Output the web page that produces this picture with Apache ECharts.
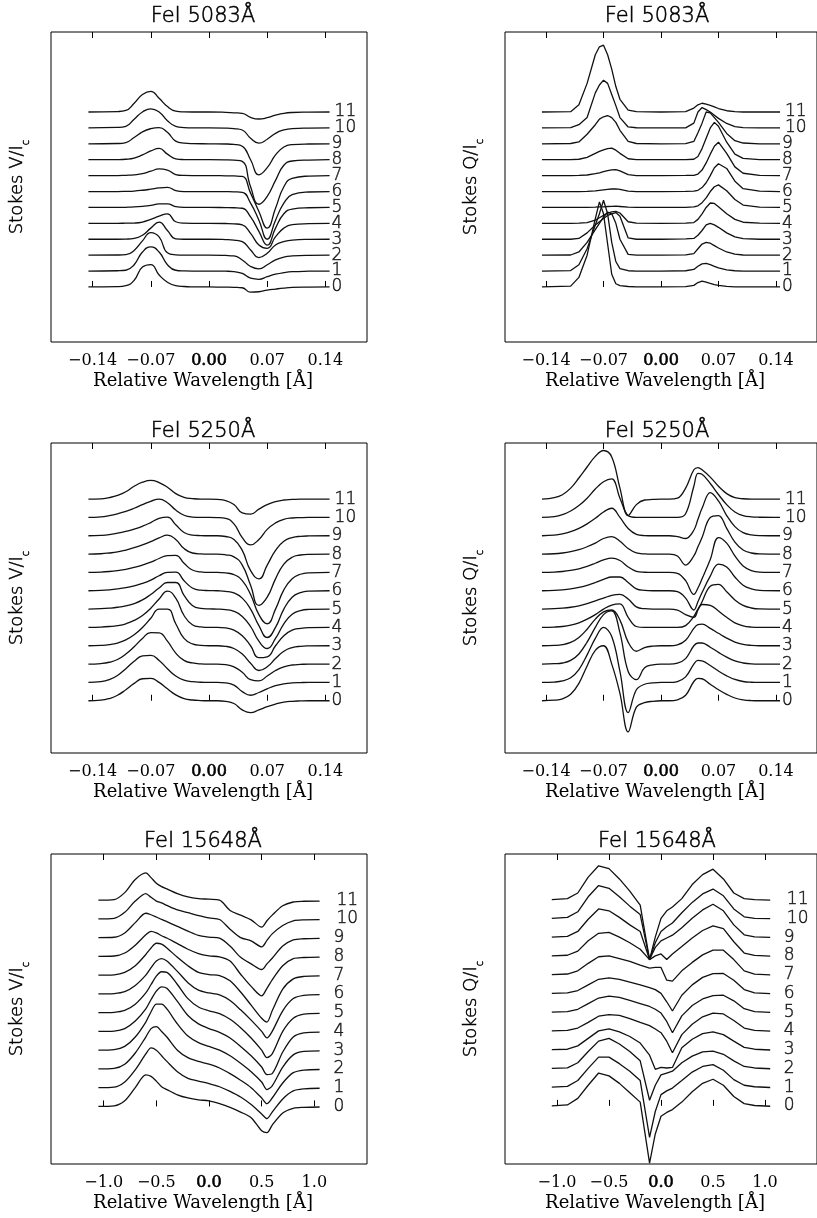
<!DOCTYPE html>
<html>
<head>
<meta charset="utf-8">
<script src="https://cdn.jsdelivr.net/npm/echarts@6/dist/echarts.min.js"></script>
<style>
  html, body { margin: 0; background: #fff; }
  #chart { width: 817px; height: 1218px; }
</style>
</head>
<body>
<div id="chart"></div>
<script>
// profile index drawn at the right of each stack
const levels = [0, 1, 2, 3, 4, 5, 6, 7, 8, 9, 10, 11];
const ticksNarrow = [-0.14, -0.07, 0, 0.07, 0.14];
const ticksWide = [-1.0, -0.5, 0, 0.5, 1.0];

// FeI 5083 Stokes V (offsets of each profile from its baseline, one unit = stack spacing)
const xV5083 = [-0.145, -0.11, -0.10, -0.09, -0.08, -0.07, -0.06, -0.05, -0.04, -0.03, -0.02, 0, 0.02, 0.03, 0.04, 0.05, 0.06, 0.07, 0.08, 0.09, 0.10, 0.12, 0.145];
const v5083 = [
  [0, 0.02, 0.08, 0.42, 1.25, 1.4, 0.75, 0.3, 0.08, 0.03, 0.01, 0, -0.01, -0.02, -0.05, -0.33, -0.3, -0.2, -0.13, -0.07, -0.03, -0.01, 0],
  [0, 0.02, 0.05, 0.4, 1.2, 1.52, 1.2, 0.4, 0.05, 0.01, 0, 0, -0.01, -0.03, -0.15, -0.45, -0.52, -0.35, -0.2, -0.1, -0.04, -0.01, 0],
  [0, 0.01, 0.03, 0.3, 0.9, 1.42, 1.15, 0.15, 0.02, 0, 0, 0, -0.02, -0.05, -0.3, -0.71, -0.86, -0.6, -0.3, -0.12, -0.05, -0.01, 0],
  [0, 0, 0.01, 0.05, 0.25, 0.7, 1.08, 0.55, 0.03, 0, 0, 0, -0.02, -0.05, -0.15, -0.67, -1.15, -0.88, -0.36, -0.15, -0.05, -0.01, 0],
  [0, 0, 0.01, 0.02, 0.08, 0.25, 0.45, 0.6, 0.1, 0.01, 0, 0, -0.01, -0.03, -0.1, -0.63, -1.36, -1.57, -0.84, -0.3, -0.08, -0.02, 0],
  [0, 0, 0.01, 0.03, 0.07, 0.13, 0.22, 0.22, 0.05, 0, 0, 0, -0.01, -0.02, -0.05, -0.6, -1.5, -2.37, -1.3, -0.4, -0.1, -0.02, 0],
  [0, 0, 0.01, 0.03, 0.08, 0.15, 0.23, 0.26, 0.06, 0, 0, 0, -0.01, -0.02, -0.05, -0.73, -1.8, -3.0, -1.8, -0.73, -0.2, -0.03, 0],
  [0, 0, 0.02, 0.05, 0.12, 0.28, 0.42, 0.35, 0.07, 0.01, 0, 0, -0.01, -0.02, -0.05, -1.1, -2.25, -3.3, -2.05, -0.7, -0.17, -0.03, 0],
  [0, 0.01, 0.03, 0.1, 0.3, 0.55, 0.71, 0.35, 0.06, 0.01, 0, 0, -0.01, -0.03, -0.1, -1.7, -2.8, -2.3, -1.3, -0.35, -0.08, -0.02, 0],
  [0, 0.02, 0.08, 0.4, 0.75, 0.95, 1.02, 0.72, 0.17, 0.04, 0.01, 0, -0.01, -0.04, -0.15, -1.0, -1.95, -1.5, -0.7, -0.2, -0.05, -0.01, 0],
  [0, 0.03, 0.1, 0.55, 1.0, 1.2, 1.0, 0.45, 0.1, 0.02, 0, 0, -0.01, -0.04, -0.13, -0.65, -0.96, -0.71, -0.34, -0.13, -0.04, -0.01, 0],
  [0, 0.03, 0.1, 0.55, 1.1, 1.3, 0.86, 0.34, 0.06, 0.01, 0, 0, -0.02, -0.05, -0.08, -0.34, -0.44, -0.36, -0.2, -0.08, -0.03, -0.01, 0]
];

// FeI 5083 Stokes Q
const xQ5083 = [-0.145, -0.11, -0.10, -0.09, -0.08, -0.075, -0.07, -0.065, -0.06, -0.055, -0.05, -0.04, -0.03, 0, 0.03, 0.04, 0.045, 0.05, 0.055, 0.06, 0.065, 0.07, 0.08, 0.09, 0.10, 0.12, 0.145];
const q5083 = [
  [0, 0.05, 0.6, 2.0, 4.3, 5.35, 4.6, 2.7, 0.8, 0.2, 0.08, 0.03, 0.01, 0, 0.02, 0.1, 0.28, 0.36, 0.3, 0.22, 0.15, 0.1, 0.04, 0.01, 0, 0, 0],
  [0, 0.03, 0.4, 1.4, 2.9, 3.6, 4.45, 3.6, 1.8, 0.6, 0.15, 0.02, 0, 0, 0.02, 0.1, 0.3, 0.45, 0.48, 0.4, 0.3, 0.2, 0.08, 0.02, 0, 0, 0],
  [0, 0.01, 0.2, 0.8, 1.6, 2.0, 2.4, 2.7, 2.6, 2.0, 1.0, 0.05, 0, 0, 0.02, 0.1, 0.4, 0.7, 0.8, 0.75, 0.6, 0.45, 0.2, 0.06, 0.01, 0, 0],
  [0, 0, 0.05, 0.4, 0.9, 1.1, 1.3, 1.5, 1.6, 1.68, 1.45, 0.08, 0, 0, 0.02, 0.05, 0.25, 0.55, 0.9, 1.0, 0.9, 0.75, 0.4, 0.15, 0.04, 0, 0],
  [0, 0, 0.01, 0.05, 0.2, 0.35, 0.5, 0.65, 0.72, 0.75, 0.65, 0.1, 0.01, 0, 0.01, 0.05, 0.25, 0.6, 1.0, 1.28, 1.25, 1.05, 0.6, 0.25, 0.07, 0.01, 0],
  [0, 0, 0, 0.01, 0.02, 0.03, 0.04, 0.06, 0.07, 0.08, 0.06, 0.02, 0, 0, 0.01, 0.03, 0.1, 0.3, 0.6, 1.0, 1.3, 1.42, 1.05, 0.5, 0.15, 0.02, 0],
  [0, 0, 0, 0.01, 0.04, 0.07, 0.1, 0.13, 0.16, 0.17, 0.14, 0.03, 0, 0, 0.01, 0.02, 0.08, 0.25, 0.55, 1.0, 1.5, 1.75, 1.45, 0.65, 0.18, 0.02, 0],
  [0, 0, 0.01, 0.04, 0.12, 0.18, 0.25, 0.31, 0.36, 0.38, 0.3, 0.06, 0, 0, 0.01, 0.02, 0.1, 0.35, 0.8, 1.35, 1.85, 2.1, 1.4, 0.55, 0.15, 0.02, 0],
  [0, 0.01, 0.03, 0.15, 0.4, 0.52, 0.62, 0.7, 0.73, 0.6, 0.4, 0.06, 0.01, 0, 0.01, 0.03, 0.2, 0.7, 1.35, 2.0, 2.35, 2.1, 1.1, 0.35, 0.08, 0.01, 0],
  [0, 0.02, 0.12, 0.6, 1.2, 1.55, 1.7, 1.78, 1.65, 1.35, 0.85, 0.15, 0.02, 0, 0.01, 0.15, 0.7, 1.3, 2.0, 1.95, 1.65, 1.35, 0.65, 0.2, 0.05, 0, 0],
  [0, 0.02, 0.2, 0.65, 2.2, 2.7, 3.0, 2.8, 2.1, 1.4, 0.65, 0.06, 0.01, 0, 0, 0.3, 1.0, 1.28, 1.15, 1.0, 0.8, 0.6, 0.28, 0.08, 0.02, 0, 0],
  [0, 0.02, 0.45, 1.8, 3.6, 4.1, 4.2, 3.6, 2.7, 1.6, 0.8, 0.12, 0.02, 0, 0.03, 0.25, 0.45, 0.55, 0.5, 0.42, 0.32, 0.22, 0.08, 0.02, 0, 0, 0]
];

// FeI 5250 Stokes V
const xV5250 = [-0.145, -0.13, -0.12, -0.11, -0.10, -0.09, -0.08, -0.07, -0.06, -0.05, -0.04, -0.03, -0.02, -0.01, 0, 0.01, 0.02, 0.03, 0.04, 0.05, 0.06, 0.07, 0.08, 0.09, 0.10, 0.11, 0.12, 0.145];
const v5250 = [
  [0, 0.03, 0.12, 0.3, 0.6, 0.95, 1.2, 1.22, 1.0, 0.65, 0.32, 0.12, 0.04, 0.01, 0, 0, -0.03, -0.15, -0.5, -0.65, -0.5, -0.32, -0.18, -0.08, -0.03, -0.01, 0, 0],
  [0, 0.04, 0.15, 0.38, 0.75, 1.15, 1.45, 1.48, 1.2, 0.75, 0.35, 0.12, 0.04, 0.01, 0, 0, -0.03, -0.15, -0.5, -0.7, -0.55, -0.35, -0.18, -0.08, -0.03, -0.01, 0, 0],
  [0, 0.03, 0.1, 0.25, 0.55, 0.95, 1.4, 1.72, 1.7, 1.25, 0.6, 0.2, 0.06, 0.01, 0, 0, -0.03, -0.15, -0.45, -0.85, -0.92, -0.65, -0.35, -0.15, -0.05, -0.02, 0, 0],
  [0, 0.02, 0.06, 0.15, 0.32, 0.6, 1.0, 1.5, 2.0, 2.0, 1.2, 0.4, 0.1, 0.02, 0, 0, -0.03, -0.15, -0.45, -0.95, -1.35, -1.15, -0.7, -0.3, -0.1, -0.03, -0.01, 0],
  [0, 0.02, 0.05, 0.1, 0.2, 0.38, 0.65, 1.05, 1.55, 1.98, 1.6, 0.65, 0.15, 0.03, 0, 0, -0.03, -0.15, -0.45, -1.0, -1.65, -1.6, -1.0, -0.45, -0.15, -0.05, -0.01, 0],
  [0, 0.02, 0.05, 0.1, 0.18, 0.3, 0.5, 0.8, 1.15, 1.45, 1.45, 0.75, 0.2, 0.04, 0.01, 0, -0.03, -0.12, -0.4, -0.95, -1.75, -2.15, -1.6, -0.8, -0.28, -0.08, -0.02, 0],
  [0, 0.02, 0.05, 0.1, 0.17, 0.27, 0.4, 0.58, 0.82, 1.0, 1.02, 0.55, 0.15, 0.03, 0.01, 0, -0.03, -0.12, -0.4, -1.0, -1.9, -2.55, -2.0, -1.0, -0.35, -0.1, -0.02, 0],
  [0, 0.02, 0.05, 0.1, 0.17, 0.27, 0.4, 0.56, 0.76, 0.92, 0.93, 0.5, 0.13, 0.03, 0, 0, -0.03, -0.12, -0.45, -1.2, -2.3, -2.8, -2.0, -0.95, -0.35, -0.1, -0.02, 0],
  [0, 0.02, 0.06, 0.12, 0.22, 0.35, 0.5, 0.68, 0.88, 1.03, 0.8, 0.3, 0.06, 0.01, 0, 0, -0.04, -0.15, -0.6, -1.7, -2.8, -2.35, -1.35, -0.55, -0.17, -0.05, -0.01, 0],
  [0, 0.02, 0.06, 0.14, 0.24, 0.36, 0.52, 0.72, 0.95, 1.02, 0.6, 0.18, 0.04, 0.01, 0, 0, -0.04, -0.2, -0.8, -1.9, -2.35, -1.6, -0.8, -0.3, -0.1, -0.03, -0.01, 0],
  [0, 0.03, 0.1, 0.2, 0.33, 0.5, 0.7, 0.88, 1.0, 0.8, 0.4, 0.12, 0.02, 0, 0, -0.01, -0.05, -0.35, -1.1, -1.5, -1.2, -0.65, -0.3, -0.1, -0.03, -0.01, 0, 0],
  [0, 0.01, 0.08, 0.2, 0.4, 0.7, 0.92, 1.02, 0.9, 0.65, 0.3, 0.1, 0.03, 0, 0, -0.02, -0.08, -0.3, -0.75, -0.82, -0.55, -0.3, -0.14, -0.05, -0.02, 0, 0, 0]
];

// FeI 5250 Stokes Q
const xQ5250 = [-0.145, -0.13, -0.12, -0.11, -0.10, -0.09, -0.08, -0.07, -0.06, -0.05, -0.04, -0.03, -0.02, -0.01, 0, 0.01, 0.02, 0.03, 0.04, 0.045, 0.05, 0.06, 0.07, 0.08, 0.09, 0.10, 0.11, 0.12, 0.145];
const q5250 = [
  [0, 0.03, 0.1, 0.35, 0.95, 1.9, 2.75, 3.0, 2.0, 0.4, -1.7, -0.35, -0.1, -0.03, 0, 0, 0.05, 0.3, 1.05, 1.22, 1.2, 0.9, 0.6, 0.35, 0.15, 0.05, 0.01, 0, 0],
  [0, 0.02, 0.08, 0.25, 0.7, 1.5, 2.4, 3.0, 2.5, 0.6, -1.65, -0.4, -0.1, -0.03, 0, 0, 0.05, 0.3, 1.0, 1.2, 1.18, 0.92, 0.62, 0.36, 0.16, 0.05, 0.01, 0, 0],
  [0, 0.02, 0.06, 0.2, 0.55, 1.2, 2.0, 2.7, 2.9, 1.7, -0.4, -0.85, -0.2, -0.04, 0, 0, 0.05, 0.3, 1.0, 1.15, 1.15, 0.92, 0.64, 0.38, 0.17, 0.06, 0.01, 0, 0],
  [0, 0.02, 0.06, 0.18, 0.45, 0.9, 1.45, 1.85, 1.95, 1.4, 0.2, -0.3, -0.1, -0.02, 0, 0, 0.05, 0.3, 0.95, 1.15, 1.18, 0.95, 0.68, 0.42, 0.2, 0.07, 0.02, 0, 0],
  [0, 0.02, 0.05, 0.12, 0.25, 0.45, 0.7, 1.0, 1.22, 1.28, 0.55, 0.05, 0, 0, 0, 0, 0, 0.1, 0.6, 1.0, 1.25, 1.2, 0.9, 0.55, 0.25, 0.09, 0.02, 0, 0],
  [0, 0.02, 0.05, 0.1, 0.18, 0.3, 0.45, 0.6, 0.75, 0.8, 0.55, 0.12, 0.02, 0, 0, 0, -0.05, -0.3, -0.45, -0.05, 0.4, 1.25, 1.35, 0.95, 0.5, 0.2, 0.06, 0.01, 0],
  [0, 0.02, 0.05, 0.1, 0.18, 0.3, 0.45, 0.62, 0.75, 0.75, 0.45, 0.1, 0.02, 0, 0, 0, -0.05, -0.4, -1.05, -0.6, -0.1, 0.8, 1.45, 1.3, 0.75, 0.3, 0.1, 0.02, 0],
  [0, 0.02, 0.05, 0.11, 0.2, 0.33, 0.5, 0.68, 0.78, 0.65, 0.3, 0.06, 0.01, 0, 0, 0, -0.05, -0.45, -1.2, -0.85, -0.35, 0.7, 1.9, 1.6, 0.9, 0.35, 0.1, 0.02, 0],
  [0, 0.02, 0.06, 0.13, 0.24, 0.4, 0.6, 0.85, 0.95, 0.7, 0.3, 0.06, 0.01, 0, 0, 0, -0.1, -0.6, -0.1, 0.4, 0.9, 2.0, 2.1, 1.4, 0.65, 0.22, 0.06, 0.01, 0],
  [0, 0.03, 0.1, 0.22, 0.4, 0.65, 0.95, 1.3, 1.5, 1.0, 0.4, 0.08, 0.01, 0, 0, 0, -0.05, -0.15, 0.3, 0.9, 1.5, 2.35, 1.9, 1.1, 0.5, 0.17, 0.05, 0.01, 0],
  [0, 0.04, 0.15, 0.35, 0.65, 1.05, 1.55, 1.95, 2.1, 1.05, 0.1, 0, 0, 0, 0, 0, 0, 0.2, 1.7, 2.4, 2.35, 1.85, 1.25, 0.7, 0.3, 0.1, 0.03, 0.01, 0],
  [0, 0.08, 0.24, 0.6, 1.15, 1.75, 2.33, 2.65, 2.3, 0.6, -0.9, -0.3, -0.05, -0.02, 0, 0, 0.05, 0.6, 1.6, 1.72, 1.6, 1.2, 0.7, 0.3, 0.08, 0.02, 0, 0, 0]
];

// FeI 15648 Stokes V
const xV15648 = [-1.05, -0.9, -0.8, -0.7, -0.6, -0.55, -0.5, -0.45, -0.4, -0.3, -0.2, -0.1, 0, 0.1, 0.2, 0.3, 0.4, 0.5, 0.55, 0.6, 0.7, 0.8, 0.9, 1.05];
const v15648 = [
  [0, 0.03, 0.3, 1.0, 1.68, 1.6, 1.35, 1.05, 0.9, 0.62, 0.45, 0.35, 0.3, 0.15, -0.05, -0.3, -0.6, -1.3, -1.4, -1.0, -0.35, -0.1, -0.05, -0.03],
  [0, 0.03, 0.3, 0.95, 1.8, 2.12, 2.0, 1.7, 1.4, 0.85, 0.5, 0.35, 0.22, 0.05, -0.2, -0.5, -0.9, -1.4, -1.65, -1.3, -0.6, -0.17, -0.06, -0.03],
  [0, 0.03, 0.25, 0.85, 1.7, 2.15, 2.25, 2.0, 1.7, 1.0, 0.6, 0.4, 0.25, 0.05, -0.25, -0.6, -1.0, -1.55, -1.85, -1.55, -0.75, -0.2, -0.06, -0.03],
  [0, 0.03, 0.2, 0.7, 1.5, 2.05, 2.45, 2.45, 2.2, 1.4, 0.75, 0.4, 0.2, 0, -0.3, -0.7, -1.15, -1.7, -2.1, -1.9, -0.9, -0.25, -0.07, -0.04],
  [0, 0.02, 0.15, 0.55, 1.2, 1.7, 2.15, 2.38, 2.3, 1.6, 0.85, 0.4, 0.15, -0.05, -0.35, -0.8, -1.3, -1.9, -2.3, -2.25, -1.1, -0.3, -0.08, -0.04],
  [0, 0.02, 0.12, 0.45, 1.05, 1.5, 1.95, 2.18, 2.15, 1.5, 0.75, 0.3, 0.1, -0.05, -0.35, -0.8, -1.35, -2.0, -2.4, -2.2, -1.0, -0.3, -0.08, -0.04],
  [0, 0.02, 0.12, 0.45, 1.0, 1.4, 1.75, 1.88, 1.75, 1.2, 0.6, 0.2, 0.05, -0.05, -0.35, -0.85, -1.4, -2.0, -2.35, -2.0, -0.9, -0.25, -0.08, -0.04],
  [0, 0.02, 0.15, 0.5, 1.1, 1.45, 1.7, 1.65, 1.45, 0.95, 0.5, 0.15, 0.03, -0.02, -0.3, -0.9, -1.6, -2.3, -2.5, -1.9, -0.75, -0.2, -0.07, -0.04],
  [0, 0.02, 0.18, 0.6, 1.15, 1.33, 1.25, 1.1, 0.98, 0.68, 0.38, 0.15, 0.03, -0.03, -0.25, -0.95, -1.6, -2.1, -1.7, -1.25, -0.5, -0.12, -0.06, -0.04],
  [0, 0.02, 0.25, 0.8, 1.3, 1.22, 1.1, 0.97, 0.85, 0.6, 0.35, 0.12, 0.03, -0.03, -0.45, -1.05, -1.4, -1.7, -1.4, -1.1, -0.45, -0.12, -0.06, -0.04],
  [0, 0.03, 0.35, 0.95, 1.35, 1.15, 0.95, 0.85, 0.72, 0.48, 0.33, 0.18, 0.05, -0.03, -0.55, -1.0, -1.17, -1.49, -1.15, -0.8, -0.35, -0.1, -0.05, -0.04],
  [0, 0.03, 0.4, 1.1, 1.45, 1.2, 0.9, 0.72, 0.6, 0.35, 0.17, 0.08, 0.05, 0, -0.55, -0.8, -1.05, -1.44, -1.1, -0.8, -0.3, -0.1, -0.06, -0.05]
];

// FeI 15648 Stokes Q
const xQ15648 = [-1.05, -0.9, -0.8, -0.7, -0.6, -0.5, -0.4, -0.3, -0.2, -0.11, -0.055, 0, 0.055, 0.11, 0.2, 0.3, 0.4, 0.5, 0.6, 0.7, 0.8, 0.9, 1.05];
const q15648 = [
  [0, 0.05, 0.4, 1.1, 1.75, 1.6, 1.2, 0.7, 0.2, -3.05, -1.5, -0.55, -0.35, -0.2, 0.2, 0.75, 1.2, 1.42, 1.1, 0.5, 0.12, 0.02, -0.02],
  [0, 0.04, 0.35, 1.0, 1.6, 1.6, 1.25, 0.85, 0.35, -2.68, -1.3, -0.4, -0.2, -0.05, 0.35, 0.8, 1.1, 1.2, 0.9, 0.4, 0.1, 0.02, -0.02],
  [0, 0.03, 0.3, 0.9, 1.45, 1.6, 1.3, 0.9, 0.4, -1.7, -0.9, -0.35, -0.25, -0.15, 0.3, 0.65, 0.88, 0.92, 0.75, 0.4, 0.1, 0.02, -0.02],
  [0, 0.02, 0.2, 0.6, 1.0, 1.1, 0.95, 0.7, 0.35, -0.3, -1.05, -0.95, -0.98, -0.95, 0.1, 0.55, 0.85, 0.94, 0.8, 0.45, 0.12, 0.02, -0.02],
  [0, 0.02, 0.15, 0.45, 0.78, 0.87, 0.82, 0.65, 0.45, 0.28, 0.1, -0.1, -0.55, -1.17, -0.2, 0.35, 0.75, 0.95, 0.9, 0.55, 0.15, 0.02, -0.02],
  [0, 0.02, 0.15, 0.45, 0.75, 0.85, 0.78, 0.62, 0.45, 0.3, 0.15, -0.05, -0.5, -1.1, -0.2, 0.35, 0.7, 0.88, 0.9, 0.6, 0.18, 0.03, -0.02],
  [0, 0.02, 0.15, 0.45, 0.75, 0.83, 0.75, 0.6, 0.45, 0.3, 0.2, 0, -0.45, -0.94, -0.1, 0.45, 0.85, 1.05, 1.06, 0.7, 0.2, 0.03, -0.02],
  [0, 0.03, 0.2, 0.6, 0.95, 1.0, 0.85, 0.7, 0.5, 0.35, 0.38, 0.38, -0.3, -0.35, 0.2, 0.65, 1.05, 1.3, 1.3, 0.8, 0.2, 0.03, -0.02],
  [0, 0.03, 0.25, 0.8, 1.2, 1.25, 1.0, 0.7, 0.35, -0.2, 0, 0.1, -0.2, 0.1, 0.5, 0.95, 1.35, 1.6, 1.45, 0.75, 0.15, 0.02, -0.02],
  [0, 0.04, 0.3, 0.95, 1.5, 1.4, 1.05, 0.65, 0.3, -1.2, -0.55, -0.2, -0.05, 0.1, 0.5, 1.0, 1.45, 1.75, 1.4, 0.65, 0.12, 0.01, -0.02],
  [0, 0.05, 0.35, 1.15, 1.75, 1.6, 1.15, 0.65, 0.2, -2.2, -1.3, -0.7, -0.45, -0.25, 0.3, 0.85, 1.3, 1.56, 1.2, 0.5, 0.08, 0, -0.02],
  [0, 0.05, 0.35, 1.2, 1.8, 1.65, 1.1, 0.45, -0.3, -3.2, -2.0, -1.0, -0.6, -0.4, 0.05, 0.8, 1.33, 1.62, 1.1, 0.35, 0.05, 0, -0.03]
];

const SANS = 'DejaVu Sans';
const SERIF = 'DejaVu Serif';
const LIGHT = 200;
// thin sans text, darkened a little with a hairline outline
const thin = {fontFamily: SANS, fontWeight: LIGHT, color: '#000', textBorderColor: '#000', textBorderWidth: 0.5};

const panels = [
  {title: 'FeI 5083Å', stokes: 'V', x: xV5083, prof: v5083, left: 51, top: 32, titleX: 203, titleY: 17, ymin: -3.46, ymax: 16.03, span: 0.19, ticks: ticksNarrow, dec: 2, labelX: 0.151, smooth: 0.5},
  {title: 'FeI 5083Å', stokes: 'Q', x: xQ5083, prof: q5083, left: 505, top: 32, titleX: 657, titleY: 17, ymin: -3.46, ymax: 16.03, span: 0.19, ticks: ticksNarrow, dec: 2, labelX: 0.151, smooth: false},
  {title: 'FeI 5250Å', stokes: 'V', x: xV5250, prof: v5250, left: 51, top: 443, titleX: 203, titleY: 432, ymin: -2.85, ymax: 14.06, span: 0.19, ticks: ticksNarrow, dec: 2, labelX: 0.151, smooth: 0.5},
  {title: 'FeI 5250Å', stokes: 'Q', x: xQ5250, prof: q5250, left: 505, top: 443, titleX: 657, titleY: 432, ymin: -2.85, ymax: 14.06, span: 0.19, ticks: ticksNarrow, dec: 2, labelX: 0.151, smooth: 0.4},
  {title: 'FeI 15648Å', stokes: 'V', x: xV15648, prof: v15648, left: 51, top: 854, titleX: 203, titleY: 842, ymin: -3.07, ymax: 13.46, span: 1.5, ticks: ticksWide, dec: 1, labelX: 1.21, smooth: 0.3},
  {title: 'FeI 15648Å', stokes: 'Q', x: xQ15648, prof: q15648, left: 505, top: 854, titleX: 657, titleY: 842, ymin: -3.1, ymax: 13.43, span: 1.5, ticks: ticksWide, dec: 1, labelX: 1.21, smooth: false}
];

const grid = [], xAxis = [], yAxis = [], series = [], graphic = [];

panels.forEach((p, k) => {
  grid.push({left: p.left, top: p.top, width: 316, height: 310, show: true,
    borderColor: '#000', borderWidth: 1, backgroundColor: 'transparent'});

  const fmt = v => {
    const s = Math.abs(v).toFixed(p.dec);
    if (v === 0) return '{z|' + s + '}';
    return (v < 0 ? '\u2212' : '') + s;
  };
  const tick = {show: true, inside: true, length: 6, customValues: p.ticks, lineStyle: {color: '#000', width: 1}};

  xAxis.push({
    gridIndex: k, type: 'value', min: -p.span, max: p.span, position: 'bottom',
    axisLine: {show: false}, splitLine: {show: false}, axisTick: tick,
    axisLabel: {customValues: p.ticks, formatter: fmt, margin: 11, color: '#000',
      fontFamily: SERIF, fontSize: 16,
      rich: {z: {fontFamily: SERIF, fontSize: 16, color: '#000', textBorderColor: '#000', textBorderWidth: 0.6}}},
    name: 'Relative Wavelength [Å]', nameLocation: 'middle', nameGap: 30,
    nameTextStyle: {fontFamily: SERIF, fontSize: 18, color: '#000', padding: [0, 12, 0, 0]}
  });
  xAxis.push({
    gridIndex: k, type: 'value', min: -p.span, max: p.span, position: 'top',
    axisLine: {show: false}, splitLine: {show: false}, axisLabel: {show: false}, axisTick: tick
  });
  yAxis.push({
    gridIndex: k, type: 'value', min: p.ymin, max: p.ymax,
    axisLine: {show: false}, axisTick: {show: false}, axisLabel: {show: false}, splitLine: {show: false},
    name: '{m|Stokes ' + p.stokes + '/I}{s|c}', nameLocation: 'middle', nameRotate: 90, nameGap: 20,
    nameTextStyle: {rich: {
      m: Object.assign({fontSize: 18, lineHeight: 28}, thin),
      s: Object.assign({fontSize: 10, lineHeight: 28, verticalAlign: 'bottom'}, thin)
    }}
  });

  p.prof.forEach((row, i) => {
    series.push({
      type: 'line', xAxisIndex: 2 * k, yAxisIndex: k, silent: true,
      data: p.x.map((x, j) => [x, row[j] + levels[i]]),
      showSymbol: false, smooth: p.smooth,
      lineStyle: {color: '#111', width: 1.3}
    });
  });

  series.push({
    type: 'scatter', xAxisIndex: 2 * k, yAxisIndex: k, silent: true, symbolSize: 0,
    data: levels.map(i => ({value: [p.labelX, i], label: {offset: [i < 10 ? -3 : 0, 0]}})),
    label: Object.assign({show: true, position: 'right', distance: 0, fontSize: 17,
      formatter: d => String(d.value[1])}, thin)
  });

  graphic.push({
    type: 'text', x: p.titleX, y: p.titleY,
    style: {text: p.title, fontFamily: SANS, fontWeight: LIGHT, fontSize: 21, fill: '#000',
      stroke: '#000', lineWidth: 0.5,
      textAlign: 'center', textVerticalAlign: 'middle', align: 'center', verticalAlign: 'middle'}
  });
});

const chart = echarts.init(document.getElementById('chart'));
chart.setOption({
  animation: false,
  backgroundColor: '#fff',
  grid: grid,
  xAxis: xAxis,
  yAxis: yAxis,
  series: series,
  graphic: graphic
});
</script>
</body>
</html>
